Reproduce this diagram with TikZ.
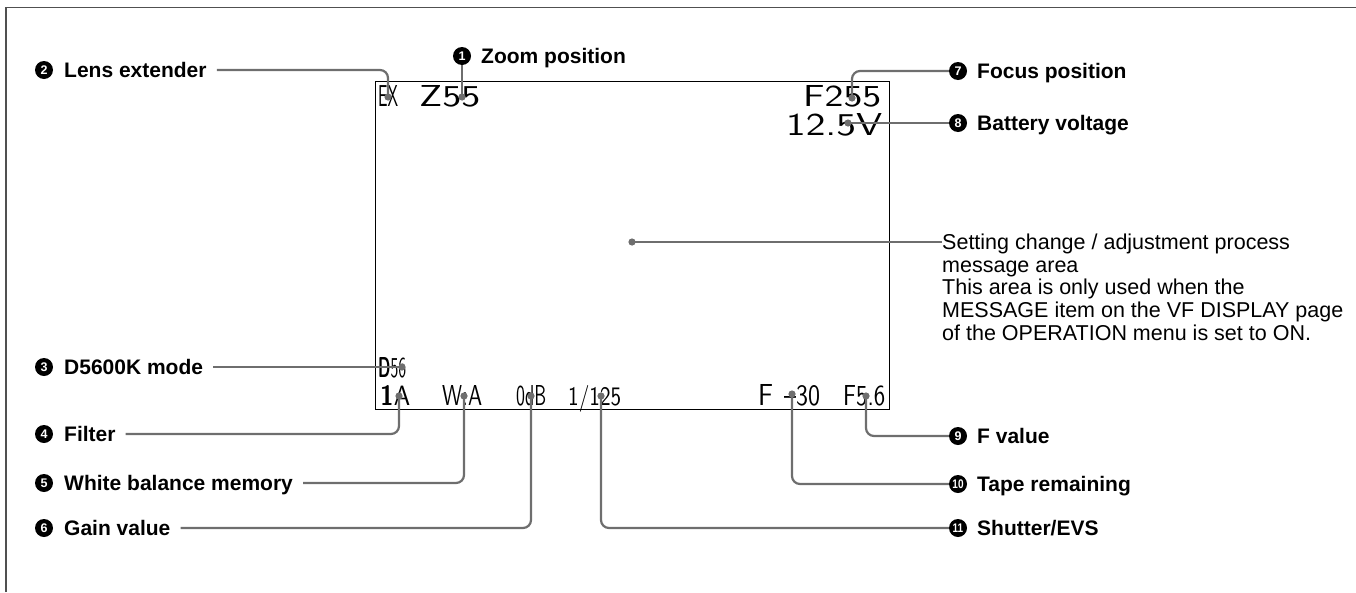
\documentclass[tikz,border=0pt]{standalone}
\usepackage{fontspec}
\setmainfont{Liberation Sans}
\usepackage{graphicx}
\definecolor{conncol}{HTML}{6E6E6E}
\definecolor{framec}{HTML}{505050}
\newcommand{\osdtxt}[3]{\resizebox{#1pt}{#2pt}{\sffamily #3}}
\begin{document}
\begin{tikzpicture}[x=1pt,y=-1pt,
  conn/.style={draw=conncol, line width=2.2pt, rounded corners=8pt},
  num/.style={circle, fill=black, minimum size=18pt, inner sep=0pt, text=white, font=\fontsize{12.5}{12.5}\selectfont\bfseries},
  lab/.style={anchor=west, inner sep=0pt, text height=15pt, text depth=0pt, font=\fontsize{21}{25}\selectfont\bfseries},
  osd/.style={anchor=base west, inner sep=0pt}]
\useasboundingbox (0,0) rectangle (1356,592);
% outer frame
\draw[framec, line width=1.6pt] (6,592) -- (6,7.5) -- (1356,7.5);
% screen
\node[draw=black, line width=1.2pt, minimum width=514pt, minimum height=328pt, anchor=north west, inner sep=0pt] (screen) at (375,81) {};
% OSD texts
\node[osd] (tEX) at (378,106) {\osdtxt{20}{21}{EX}};
\node[osd] (tZ) at (419,106) {\osdtxt{61}{21}{Z55}};
\node[osd] (tF) at (803,106) {\osdtxt{78}{21}{F255}};
\node[osd] (tV) at (786,135) {\osdtxt{96}{22}{12.5V}};
\node[osd] (tD) at (378,377) {\osdtxt{28}{20}{\textbf{D}56}};
\node[osd] (t1A) at (380,405) {\osdtxt{30}{20}{\textbf{1}A}};
\node[osd] (tW) at (442,405) {\osdtxt{40}{20}{W:A}};
\node[osd] (t0) at (516,405) {\osdtxt{30}{20}{0dB}};
\node[osd] (tS) at (568,405) {\osdtxt{53}{20}{1/125}};
\node[osd] (tFF) at (758,405) {\osdtxt{15}{21}{F}};
\node[osd] (tT) at (784,405) {\osdtxt{36}{20}{\textendash30}};
\node[osd] (tFv) at (843,405) {\osdtxt{42}{20}{F5.6}};
% dot positions
\coordinate (dEX) at (388,97);
\coordinate (dZ) at (462,97);
\coordinate (dF) at (852,98);
\coordinate (dV) at (848,123);
\coordinate (dM) at (632,242);
\coordinate (dD) at (402,367);
\coordinate (d1A) at (399,396);
\coordinate (dW) at (464,396);
\coordinate (d0) at (531,396);
\coordinate (dS) at (601,396);
\coordinate (dT) at (792,394);
\coordinate (dFv) at (866,396);
% labels left
\node[num] (c2) at (44,70) {2};
\node[lab] (l2) at (64,70) {Lens extender};
\node[num] (c3) at (44,367) {3};
\node[lab] (l3) at (64,367) {D5600K mode};
\node[num] (c4) at (44,434) {4};
\node[lab] (l4) at (64,434) {Filter};
\node[num] (c5) at (44,483) {5};
\node[lab] (l5) at (64,483) {White balance memory};
\node[num] (c6) at (44,528) {6};
\node[lab] (l6) at (64,528) {Gain value};
% label top
\node[num] (c1) at (462,56) {1};
\node[lab] (l1) at (481,56) {Zoom position};
% labels right
\node[num] (c7) at (958,71) {7};
\node[lab] (l7) at (977,71) {Focus position};
\node[num] (c8) at (958,123) {8};
\node[lab] (l8) at (977,123) {Battery voltage};
\node[num] (c9) at (958,436) {9};
\node[lab] (l9) at (977,436) {F value};
\node[num] (c10) at (958,484) {\scalebox{0.8}[1]{10}};
\node[lab] (l10) at (977,484) {Tape remaining};
\node[num] (c11) at (958,528) {\scalebox{0.8}[1]{11}};
\node[lab] (l11) at (977,528) {Shutter/EVS};
% message
\node[anchor=north west, inner sep=0pt, align=left, font=\fontsize{21.5}{22.6}\selectfont] (msg) at (942,234) {Setting change / adjustment process\\message area\\This area is only used when the\\MESSAGE item on the VF DISPLAY page\\of the OPERATION menu is set to ON.};
\coordinate (mt) at ([yshift=-8pt]msg.north west);
% connectors
\draw[conn] (c1.south) -- (dZ);
\draw[conn] ([xshift=10pt]l2.east) -| (dEX);
\draw[conn] (c7.west) -| (dF);
\draw[conn] (dV) -- (c8.west);
\draw[conn] (dM) -- (mt);
\draw[conn] ([xshift=10pt]l3.east) -- (dD);
\draw[conn] ([xshift=10pt]l4.east) -| (d1A);
\draw[conn] ([xshift=10pt]l5.east) -| (dW);
\draw[conn] ([xshift=10pt]l6.east) -| (d0);
\draw[conn] (dS) |- (c11.west);
\draw[conn] (dT) |- (c10.west);
\draw[conn] (dFv) |- (c9.west);
% dots
\foreach \d in {dEX,dZ,dF,dV,dM,dD,d1A,dW,d0,dS,dT,dFv}
  \fill[conncol] (\d) circle (3.6pt);
\end{tikzpicture}
\end{document}
